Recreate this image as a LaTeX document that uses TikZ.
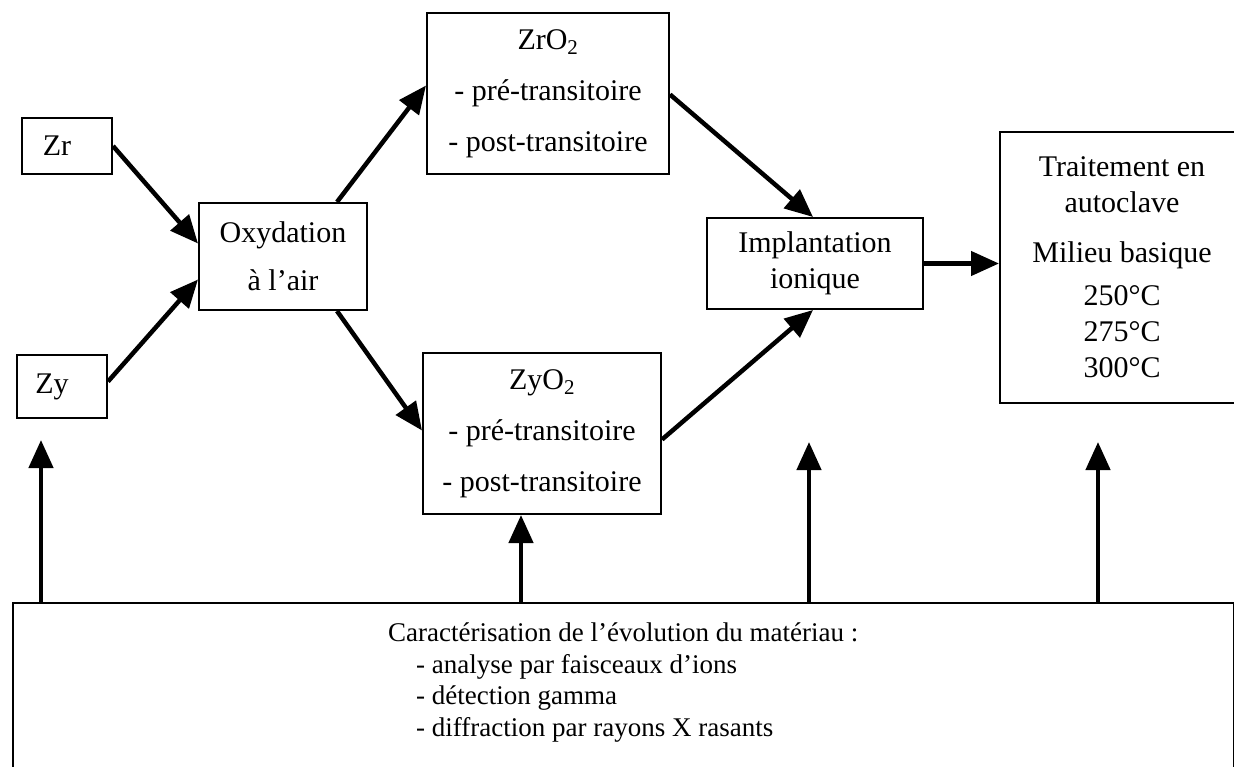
\documentclass[tikz,border=0pt]{standalone}
\usepackage{fontspec}
\setmainfont{Liberation Serif}
\usetikzlibrary{arrows.meta,calc}
\begin{document}
\begin{tikzpicture}[x=1pt,y=-1pt,
  box/.style={draw, line width=2pt, inner sep=0pt, align=center, font=\fontsize{30}{51}\selectfont},
  arr/.style={line width=4.5pt, -{Triangle[length=28pt,width=24pt]}},
  btext/.style={anchor=north west, align=left, inner sep=0pt, font=\fontsize{27}{31.5}\selectfont}
]
\useasboundingbox (0,0) rectangle (1234,767);
\clip (0,0) rectangle (1234,767);
\fill[white] (0,0) rectangle (1234,767);

\node[box, minimum width=90pt, minimum height=56pt] (zr) at (67,146) {Zr\hspace{20pt}};
\node[box, minimum width=90pt, minimum height=63pt] (zy) at (62,386.5) {Zy\hspace{20pt}};
\node[box, minimum width=168pt, minimum height=107pt, font=\fontsize{30}{48}\selectfont] (oxy) at (283,256.5) {Oxydation\\à l’air};
\node[box, minimum width=242pt, minimum height=161pt] (zro) at (548,93.5) {ZrO\textsubscript{2}\\- pré-transitoire\\- post-transitoire};
\node[box, minimum width=238pt, minimum height=161pt] (zyo) at (542,433.5) {ZyO\textsubscript{2}\\- pré-transitoire\\- post-transitoire};
\node[box, minimum width=216pt, minimum height=91pt, font=\fontsize{30}{36}\selectfont] (impl) at (815,263.5) {Implantation\\ionique};
\node[box, minimum width=244pt, minimum height=271pt, font=\fontsize{30}{36}\selectfont] (trt) at (1122,267.5) {Traitement en\\autoclave\\[14pt]Milieu basique\\[7pt]250°C\\275°C\\300°C};

\node[draw, line width=2pt, minimum width=1221pt, minimum height=200pt, inner sep=0pt, anchor=north west] (bot) at (12,602) {};
\node[btext] (btxt) at (388,623) {Caractérisation de l’évolution du matériau :\\\hspace*{28pt}- analyse par faisceaux d’ions\\\hspace*{28pt}- détection gamma\\\hspace*{28pt}- diffraction par rayons X rasants};

\draw[arr] (zr.east) -- ([yshift=13pt]oxy.west);
\draw[arr] ([yshift=5pt]zy.east) -- ([yshift=-23pt]oxy.west);
\draw[arr] ([xshift=54pt]oxy.north) -- ([yshift=8pt]zro.west);
\draw[arr] ([xshift=54pt]oxy.south) -- ([yshift=3pt]zyo.west);
\draw[arr] ([yshift=-1pt]zro.east) -- ([xshift=-2pt]impl.north);
\draw[arr] ([yshift=-6pt]zyo.east) -- ([xshift=-2pt]impl.south);
\draw[arr] (impl.east) -- (impl.east -| trt.west);

\coordinate (c1) at (41,440);
\coordinate (c2) at (521,0);
\coordinate (c3) at (809,442);
\coordinate (c4) at (1098,442);
\draw[arr] (c1 |- bot.north) -- (c1);
\draw[arr] (c2 |- bot.north) -- (c2 |- zyo.south);
\draw[arr] (c3 |- bot.north) -- (c3);
\draw[arr] (c4 |- bot.north) -- (c4);
\end{tikzpicture}
\end{document}
